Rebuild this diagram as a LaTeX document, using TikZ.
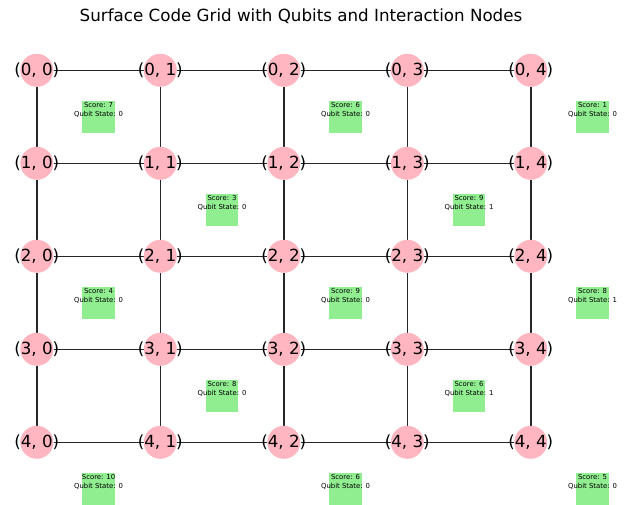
\documentclass[tikz,border=0pt]{standalone}
\usepackage{fontspec}
\setmainfont{DejaVu Sans}
\usetikzlibrary{backgrounds}
\definecolor{qubitpink}{RGB}{255,182,193}
\definecolor{stabgreen}{RGB}{144,238,144}
\tikzset{
qubit/.style={circle,fill=qubitpink,minimum size=33pt,inner sep=0pt},
qlabel/.style={font=\fontsize{16.7}{20}\selectfont,inner sep=0pt},
stab/.style={rectangle,fill=stabgreen,minimum size=32.5pt,inner sep=0pt},
stabtext/.style={font=\fontsize{6.9}{8.2}\selectfont,align=center,inner sep=0pt},
link/.style={line width=1.5pt,black!85}
}
\begin{document}
\begin{tikzpicture}[x=1pt,y=-1pt]
\useasboundingbox (0,0) rectangle (630,505);
\node[anchor=base,font=\fontsize{16.7}{20}\selectfont] (title) at (301,21.7) {Surface Code Grid with Qubits and Interaction Nodes};
\foreach \i in {0,...,4}
\foreach \j in {0,...,4}
\node[qubit,label={[qlabel]center:{(\i, \j)}}] (q\i\j) at (36.8+123.5*\j,70.3+93*\i) {};
\begin{scope}[on background layer]
\foreach \i in {0,...,4}
\foreach \j [count=\k] in {0,...,3}
\draw[link] (q\i\j) -- (q\i\k);
\foreach \i [count=\k] in {0,...,3}
\foreach \j in {0,...,4}
\draw[link] (q\i\j) -- (q\k\j);
\end{scope}
\foreach \i/\j/\sc/\st in {0/0/7/0,0/2/6/0,0/4/1/0,1/1/3/0,1/3/9/1,2/0/4/0,2/2/9/0,2/4/8/1,3/1/8/0,3/3/6/1,4/0/10/0,4/2/6/0,4/4/5/0}
\node[stab,label={[stabtext,yshift=7pt]center:{Score: \sc\\Qubit State: \st}}] (s\i\j) at (98.55+123.5*\j,116.8+93*\i) {};
\end{tikzpicture}
\end{document}
